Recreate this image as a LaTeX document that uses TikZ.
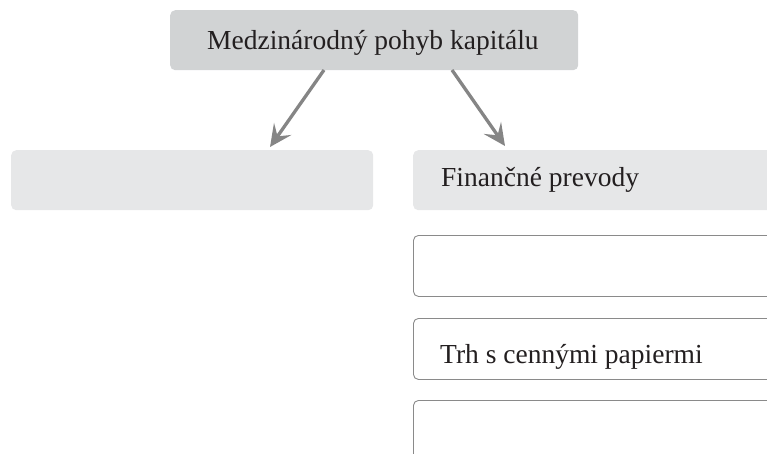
\documentclass[tikz,border=0pt]{standalone}
\usepackage{fontspec}
\setmainfont{Liberation Serif}
\usetikzlibrary{arrows.meta}
\definecolor{topgray}{HTML}{D1D3D4}
\definecolor{lightgray}{HTML}{E6E7E8}
\definecolor{framegray}{HTML}{8A8A8A}
\definecolor{arrowgray}{HTML}{858585}
\definecolor{inkdark}{HTML}{231F20}
\tikzset{
  graybox/.style={fill=lightgray, draw=none, rounded corners=5pt, anchor=north west, inner sep=0pt},
  topbox/.style={fill=topgray, draw=none, rounded corners=5pt, anchor=north west, inner sep=0pt},
  whitebox/.style={fill=white, draw=framegray, line width=0.9pt, rounded corners=5pt, anchor=north west, inner sep=0pt},
  label/.style={anchor=base west, inner sep=0pt, text=inkdark, font=\fontsize{27.5}{30}\selectfont},
  link/.style={draw=arrowgray, line width=3.3pt, -{Stealth[length=22pt, width=21pt, inset=9pt]}},
}
\begin{document}
\begin{tikzpicture}[x=1pt, y=-1pt]
  \useasboundingbox (0,0) rectangle (767,454);
  \clip (0,0) rectangle (767,454);
  \node[topbox, minimum width=408pt, minimum height=60pt] (top) at (170,10) {};
  \node[label] (toptext) at (207,49.3) {Medzinárodný pohyb kapitálu};
  \node[graybox, minimum width=362pt, minimum height=60pt] (left) at (11,150) {};
  \node[graybox, minimum width=400pt, minimum height=60pt] (right) at (413,150) {};
  \node[label] (righttext) at (441,186.7) {Finančné prevody};
  \node[whitebox, minimum width=400pt, minimum height=61pt] (w1) at (413,235) {};
  \node[whitebox, minimum width=400pt, minimum height=61pt] (w2) at (413,318) {};
  \node[label] (w2text) at (440,363.3) {Trh s cennými papiermi};
  \node[whitebox, minimum width=400pt, minimum height=100pt] (w3) at (413,400) {};
  \coordinate (la) at (324,70);
  \coordinate (lb) at (270,147);
  \coordinate (ra) at (452,70);
  \coordinate (rb) at (505,146);
  \draw[link] (la) -- (lb);
  \draw[link] (ra) -- (rb);
\end{tikzpicture}
\end{document}
